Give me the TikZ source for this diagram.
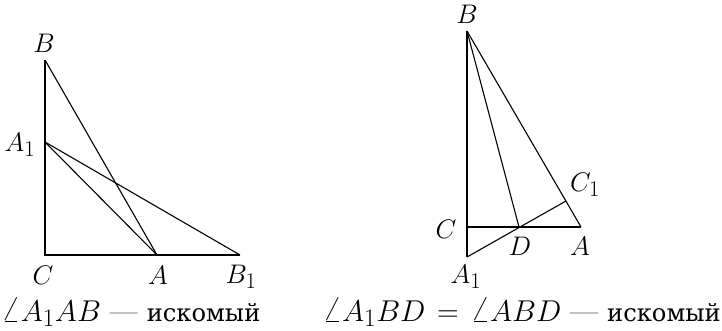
\documentclass[tikz,border=0pt]{standalone}
\usepackage{fontspec}
\newfontfamily\cyrfont{DejaVu Serif}
\begin{document}
\begin{tikzpicture}[x=1pt,y=-1pt,
  seg/.style={line width=1.1pt},
  lbl/.style={inner sep=0pt,font=\Huge,scale=1.08},
  captext/.style={inner sep=0pt,font=\Huge,scale=1.21}]
\useasboundingbox (0,0) rectangle (722,331);
% left figure
\coordinate (C) at (45,255);
\coordinate (B) at (45,60);
\coordinate (A1) at (45,142);
\coordinate (A) at (157,255);
\coordinate (B1) at (240,255);
\draw[seg] (B) -- (C) -- (B1);
\draw[seg] (B) -- (A);
\draw[seg] (A1) -- (A);
\draw[seg] (A1) -- (B1);
\node[lbl] (lB) at (44,43) {$B$};
\node[lbl] (lA1) at (20,145) {$A_1$};
\node[lbl] (lC) at (43,275) {$C$};
\node[lbl] (lA) at (158,275) {$A$};
\node[lbl] (lB1) at (241,277) {$B_1$};
% right figure
\coordinate (rB) at (467,31);
\coordinate (rC) at (467,227);
\coordinate (rA) at (581,227);
\coordinate (rA1) at (467,257);
\coordinate (rD) at (519,227);
\coordinate (rC1) at (566,201);
\draw[seg] (rB) -- (rA1);
\draw[seg] (rC) -- (rA);
\draw[seg] (rB) -- (rA);
\draw[seg] (rB) -- (rD);
\draw[seg] (rA1) -- (rC1);
\node[lbl] (rlB) at (467,14) {$B$};
\node[lbl] (rlC) at (446,229) {$C$};
\node[lbl] (rlD) at (520,246) {$D$};
\node[lbl] (rlA) at (580,246) {$A$};
\node[lbl] (rlC1) at (585,185) {$C_1$};
\node[lbl] (rlA1) at (466,277) {$A_1$};
% captions
\node[captext,anchor=base west] (cap1) at (1,321) {$\angle A_1AB$ --- {\cyrfont\fontsize{20}{25}\selectfont искомый}};
\node[captext,anchor=base east] (cap2) at (721,321) {$\angle A_1BD\mkern2mu=\mkern2mu\angle ABD$ --- {\cyrfont\fontsize{20}{25}\selectfont искомый}};
\end{tikzpicture}
\end{document}
